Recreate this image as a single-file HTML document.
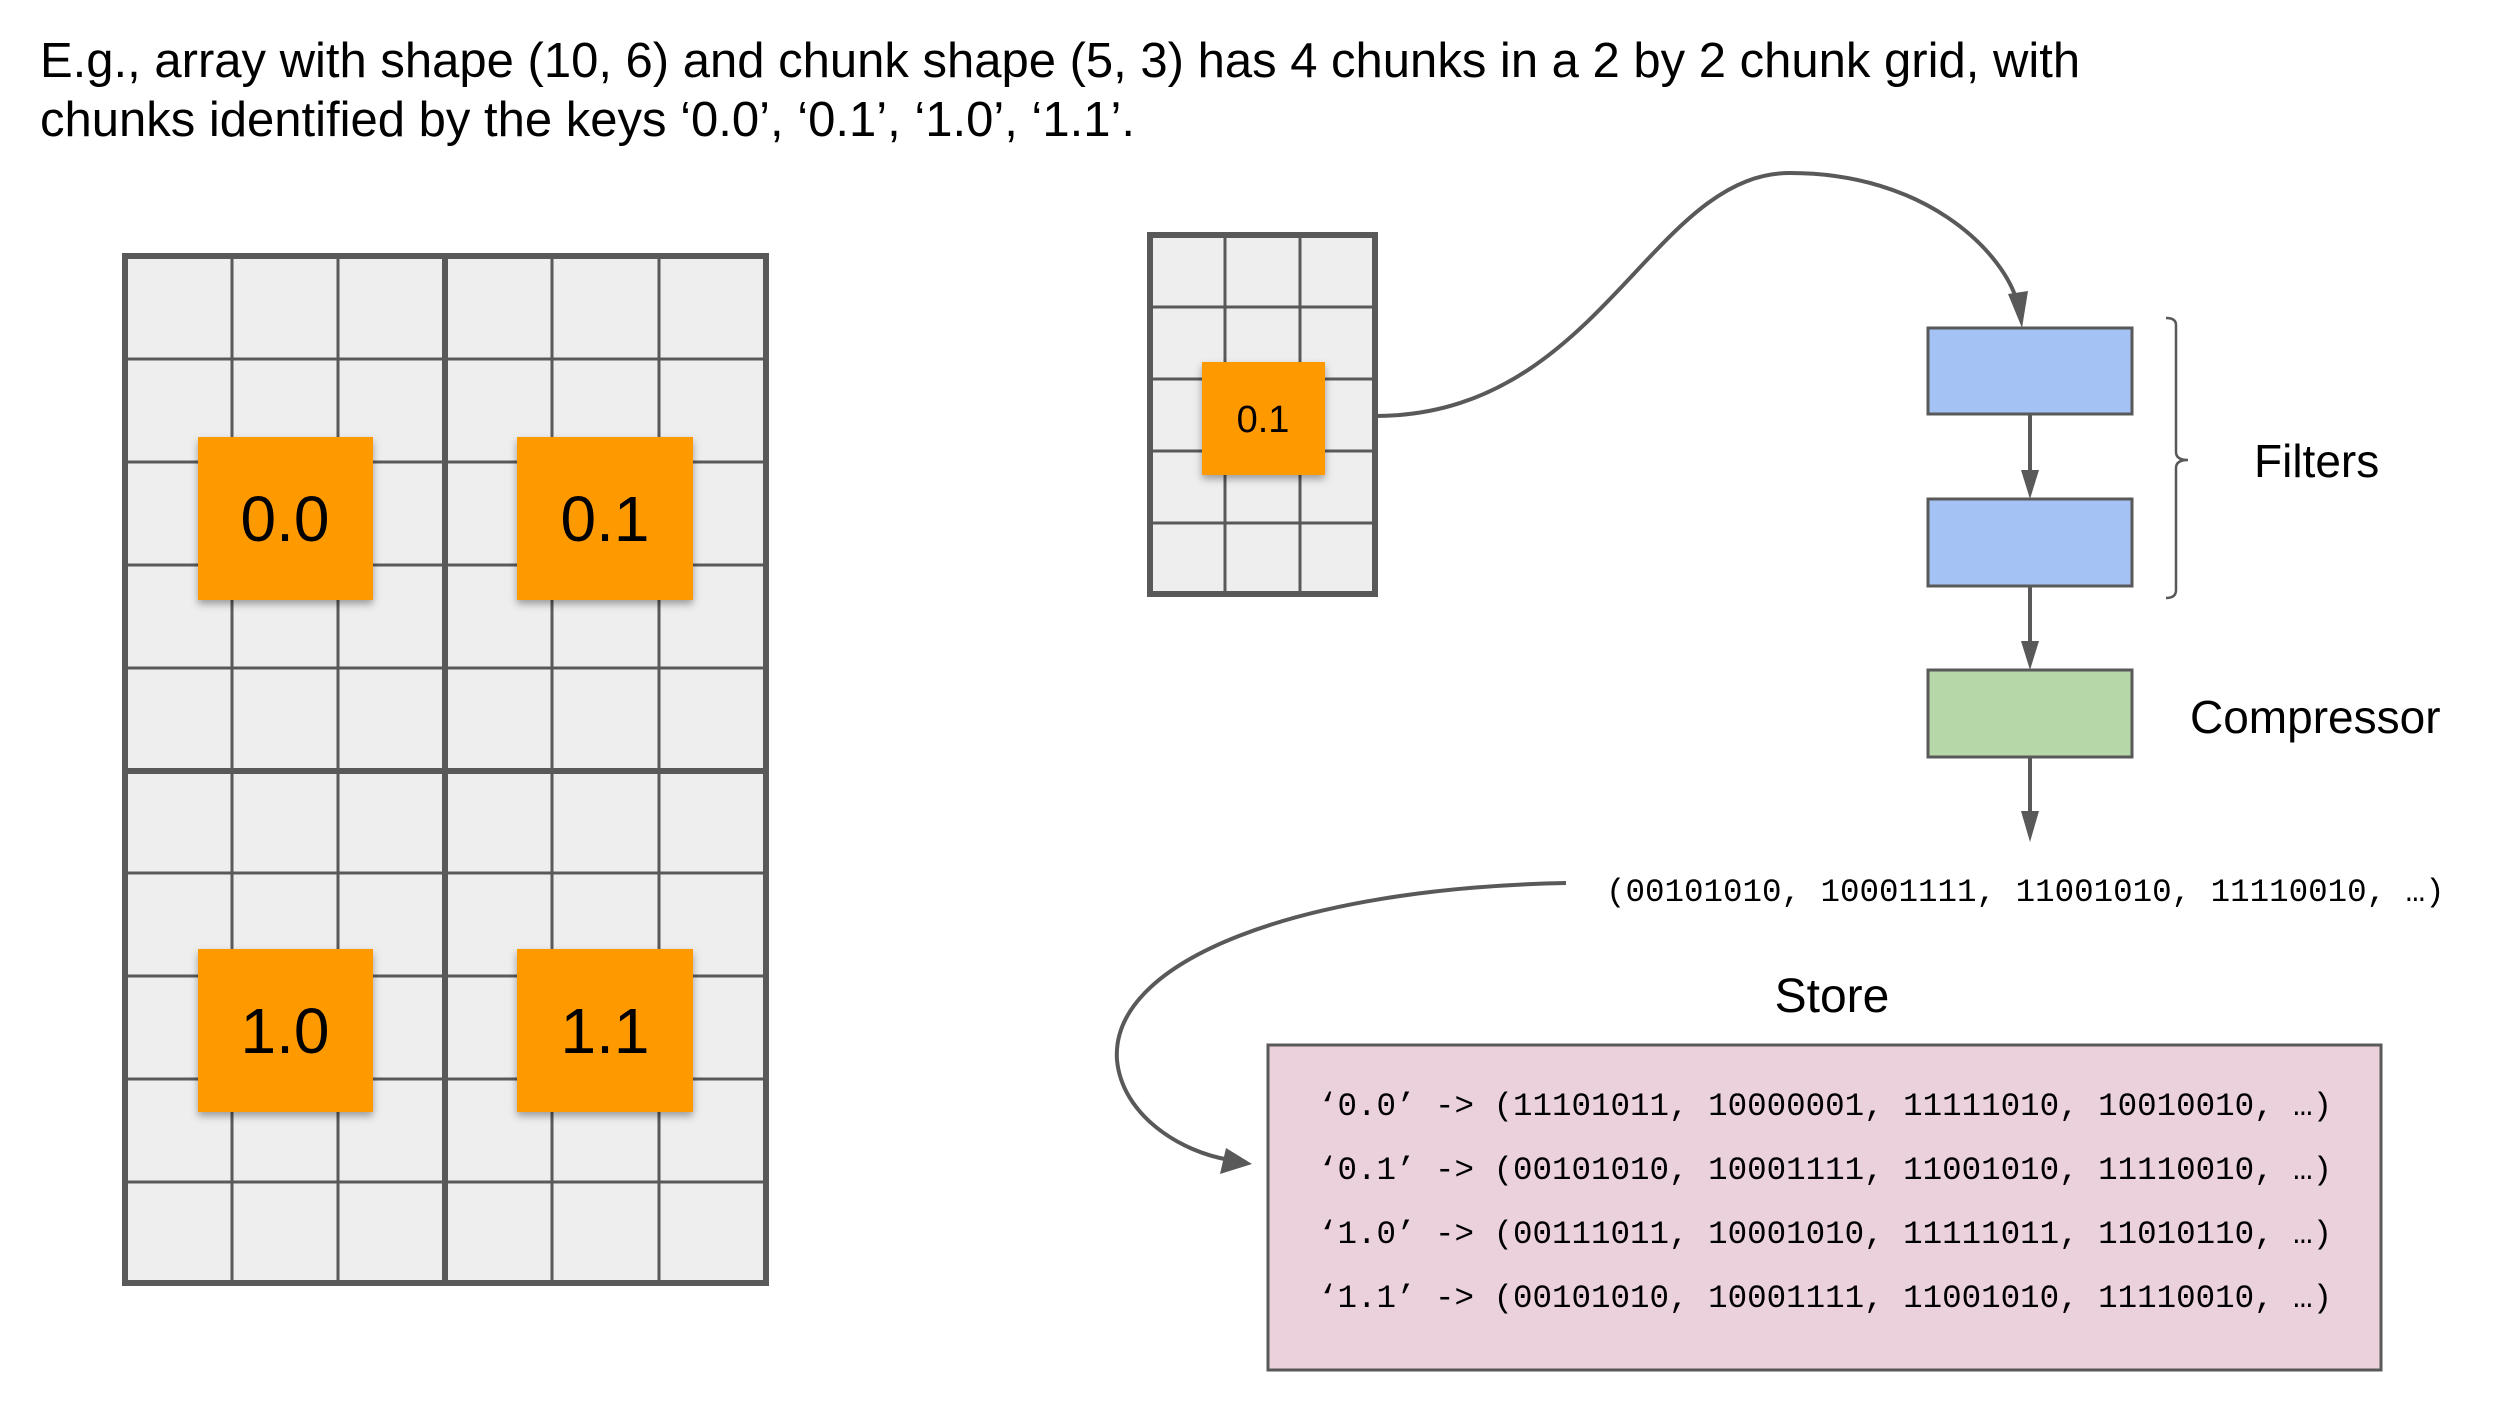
<!DOCTYPE html>
<html><head><meta charset="utf-8"><style>
html,body{margin:0;padding:0;background:#fff}
svg{display:block}
text{font-family:"Liberation Sans",Arial,sans-serif}
text.m{font-family:"Liberation Mono",monospace}
</style></head><body>
<svg width="2496" height="1404" viewBox="0 0 2496 1404" xmlns="http://www.w3.org/2000/svg">
<defs>
<filter id="sh" x="-20%" y="-20%" width="140%" height="140%"><feDropShadow dx="0" dy="4" stdDeviation="4" flood-color="#000" flood-opacity="0.35"/></filter>
</defs>
<text x="40" y="77" font-size="49" fill="#000">E.g., array with shape (10, 6) and chunk shape (5, 3) has 4 chunks in a 2 by 2 chunk grid, with</text>
<text x="40" y="136" font-size="49" fill="#000">chunks identified by the keys ‘0.0’, ‘0.1’, ‘1.0’, ‘1.1’.</text>

<!-- big grid -->
<rect x="125" y="256" width="641" height="1027" fill="#eeeeee"/>
<g stroke="#595959" stroke-width="3">
<line x1="232" y1="256" x2="232" y2="1283"/><line x1="338" y1="256" x2="338" y2="1283"/>
<line x1="552" y1="256" x2="552" y2="1283"/><line x1="659" y1="256" x2="659" y2="1283"/>
<line x1="125" y1="359" x2="766" y2="359"/><line x1="125" y1="462" x2="766" y2="462"/>
<line x1="125" y1="565" x2="766" y2="565"/><line x1="125" y1="668" x2="766" y2="668"/>
<line x1="125" y1="873" x2="766" y2="873"/><line x1="125" y1="976" x2="766" y2="976"/>
<line x1="125" y1="1079" x2="766" y2="1079"/><line x1="125" y1="1182" x2="766" y2="1182"/>
</g>
<g stroke="#595959" stroke-width="6" fill="none">
<rect x="125" y="256" width="641" height="1027"/>
<line x1="445" y1="256" x2="445" y2="1283"/>
<line x1="125" y1="771" x2="766" y2="771"/>
</g>
<g fill="#ff9900" filter="url(#sh)">
<rect x="198" y="437" width="175" height="163"/><rect x="517" y="437" width="176" height="163"/>
<rect x="198" y="949" width="175" height="163"/><rect x="517" y="949" width="176" height="163"/>
</g>
<g font-size="64" text-anchor="middle" fill="#000">
<text x="285" y="541">0.0</text><text x="605" y="541">0.1</text>
<text x="285" y="1053">1.0</text><text x="605" y="1053">1.1</text>
</g>

<!-- small grid -->
<rect x="1150" y="235" width="225" height="359" fill="#eeeeee"/>
<g stroke="#595959" stroke-width="3">
<line x1="1225" y1="235" x2="1225" y2="594"/><line x1="1300" y1="235" x2="1300" y2="594"/>
<line x1="1150" y1="307" x2="1375" y2="307"/><line x1="1150" y1="379" x2="1375" y2="379"/>
<line x1="1150" y1="451" x2="1375" y2="451"/><line x1="1150" y1="523" x2="1375" y2="523"/>
</g>
<rect x="1150" y="235" width="225" height="359" fill="none" stroke="#595959" stroke-width="6"/>
<rect x="1202" y="362" width="123" height="113" fill="#ff9900" filter="url(#sh)"/>
<text x="1263" y="432" font-size="38" text-anchor="middle">0.1</text>

<!-- curve 1 -->
<path d="M1375,416 C1600,416 1650,173 1790,173 C1925,173 2000,250 2016,298" fill="none" stroke="#595959" stroke-width="4"/>
<polygon points="2022,328 2008,294 2028,291" fill="#595959"/>

<!-- filters -->
<rect x="1928" y="328" width="204" height="86" fill="#a4c2f4" stroke="#595959" stroke-width="3"/>
<rect x="1928" y="499" width="204" height="87" fill="#a4c2f4" stroke="#595959" stroke-width="3"/>
<rect x="1928" y="670" width="204" height="87" fill="#b6d7a8" stroke="#595959" stroke-width="3"/>
<g stroke="#595959" stroke-width="4">
<line x1="2030" y1="414" x2="2030" y2="475"/><line x1="2030" y1="586" x2="2030" y2="646"/><line x1="2030" y1="757" x2="2030" y2="815"/>
</g>
<g fill="#595959">
<polygon points="2030,499 2021,470 2039,470"/><polygon points="2030,670 2021,641 2039,641"/><polygon points="2030,842 2021,811 2039,811"/>
</g>
<path d="M2166,318 Q2176,318 2176,325 L2176,452 Q2176,460 2188,460 Q2176,460 2176,468 L2176,590 Q2176,598 2166,598" fill="none" stroke="#595959" stroke-width="2.5"/>
<text x="2254" y="477" font-size="46">Filters</text>
<text x="2190" y="733" font-size="46">Compressor</text>

<text x="1606" y="901" font-size="32.5" class="m">(00101010, 10001111, 11001010, 11110010, …)</text>

<!-- curve 2 -->
<path d="M1566,883 C1300,888 1110,960 1117,1060 C1122,1115 1180,1152 1230,1160" fill="none" stroke="#595959" stroke-width="4"/>
<polygon points="1252,1164 1220,1174 1226,1148" fill="#595959"/>

<text x="1832" y="1012" font-size="48" text-anchor="middle">Store</text>
<rect x="1268" y="1045" width="1113" height="325" fill="#ead1dc" stroke="#595959" stroke-width="3"/>
<g font-size="32.5" fill="#000">
<text class="m" x="1318" y="1115">‘0.0’ -&gt; (11101011, 10000001, 11111010, 10010010, …)</text>
<text class="m" x="1318" y="1179">‘0.1’ -&gt; (00101010, 10001111, 11001010, 11110010, …)</text>
<text class="m" x="1318" y="1243">‘1.0’ -&gt; (00111011, 10001010, 11111011, 11010110, …)</text>
<text class="m" x="1318" y="1307">‘1.1’ -&gt; (00101010, 10001111, 11001010, 11110010, …)</text>
</g>
</svg>
</body></html>
